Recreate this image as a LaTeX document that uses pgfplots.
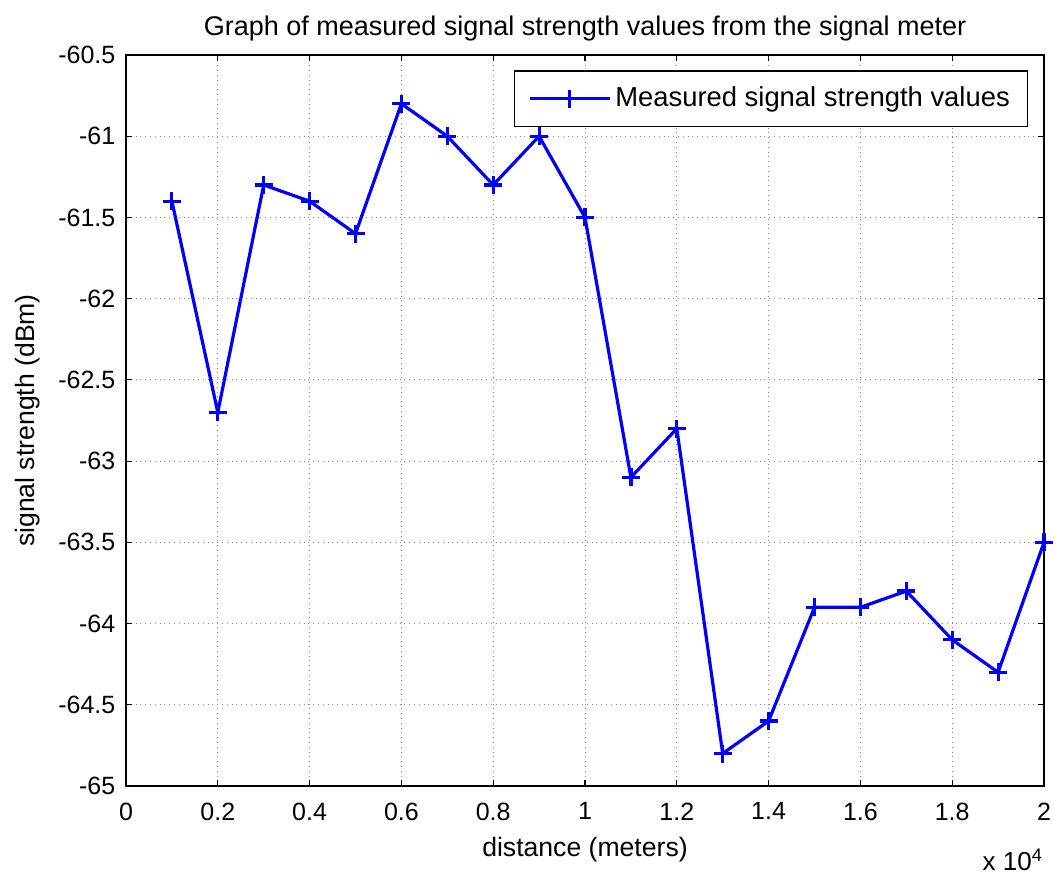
\documentclass[border=0pt]{standalone}
\usepackage{pgfplots}
\pgfplotsset{compat=1.18}
\usepackage{fontspec}
\setmainfont{Liberation Sans}
\begin{document}
\fontsize{12.5}{15}\selectfont
\begin{tikzpicture}
\begin{axis}[
  scale only axis,
  width=459pt, height=365.5pt,
  xmin=0, xmax=20000, ymin=-65, ymax=-60.5,
  xtick={0,2000,...,20000},
  xticklabels={0,0.2,0.4,0.6,0.8,1,1.2,1.4,1.6,1.8,2},
  ytick={-65,-64.5,-64,-63.5,-63,-62.5,-62,-61.5,-61,-60.5},
  yticklabels={-65,-64.5,-64,-63.5,-63,-62.5,-62,-61.5,-61,-60.5},
  scaled x ticks=false,
  clip=false,
  tick align=inside, tick pos=both,
  major tick length=3pt,
  tick style={black, line width=0.6pt},
  axis line style={black, line width=0.6pt},
  grid=major,
  grid style={dotted, gray!90, line width=0.5pt},
  tick label style={font=\fontsize{12.5}{15}\selectfont},
  xticklabel style={yshift=-4pt},
  yticklabel style={xshift=-1pt},
  title={Graph of measured signal strength values from the signal meter},
  title style={font=\fontsize{13.5}{16}\selectfont, at={(axis description cs:0.5,1)}, anchor=south, yshift=-3.5pt},
  xlabel={distance (meters)},
  ylabel={signal strength (dBm)},
  label style={font=\fontsize{13.3}{16}\selectfont},
  xlabel style={yshift=0pt},
  ylabel style={yshift=0.5pt},
  legend style={at={(axis description cs:0.983,0.979)}, anchor=north east,
    draw=black, line width=0.6pt, font=\fontsize{13.7}{16}\selectfont,
    inner xsep=7pt, inner ysep=6pt, legend cell align=left},
  legend image code/.code={
    \draw[#1, mark repeat=2, mark phase=2] plot coordinates {(0pt,0pt) (20pt,0pt) (40pt,0pt)};
  },
]
\addplot[blue, line width=1.6pt, mark=+, mark size=4.5pt, mark options={line width=1.6pt}]
coordinates {
(1000,-61.4) (2000,-62.7) (3000,-61.3) (4000,-61.4) (5000,-61.6)
(6000,-60.8) (7000,-61.0) (8000,-61.3) (9000,-61.0) (10000,-61.5)
(11000,-63.1) (12000,-62.8) (13000,-64.8) (14000,-64.6) (15000,-63.9)
(16000,-63.9) (17000,-63.8) (18000,-64.1) (19000,-64.3) (20000,-63.5)
};
\addlegendentry{Measured signal strength values\hspace{14pt}}
\node[anchor=center, font=\fontsize{13}{15}\selectfont] at (axis description cs:0.966,-0.101) {x 10$^{\mathrm{4}}$};
\end{axis}
\pgfresetboundingbox
\useasboundingbox ([xshift=-63pt,yshift=-45pt]current axis.south west) rectangle ([xshift=5pt,yshift=27.5pt]current axis.north east);
\end{tikzpicture}
\end{document}
